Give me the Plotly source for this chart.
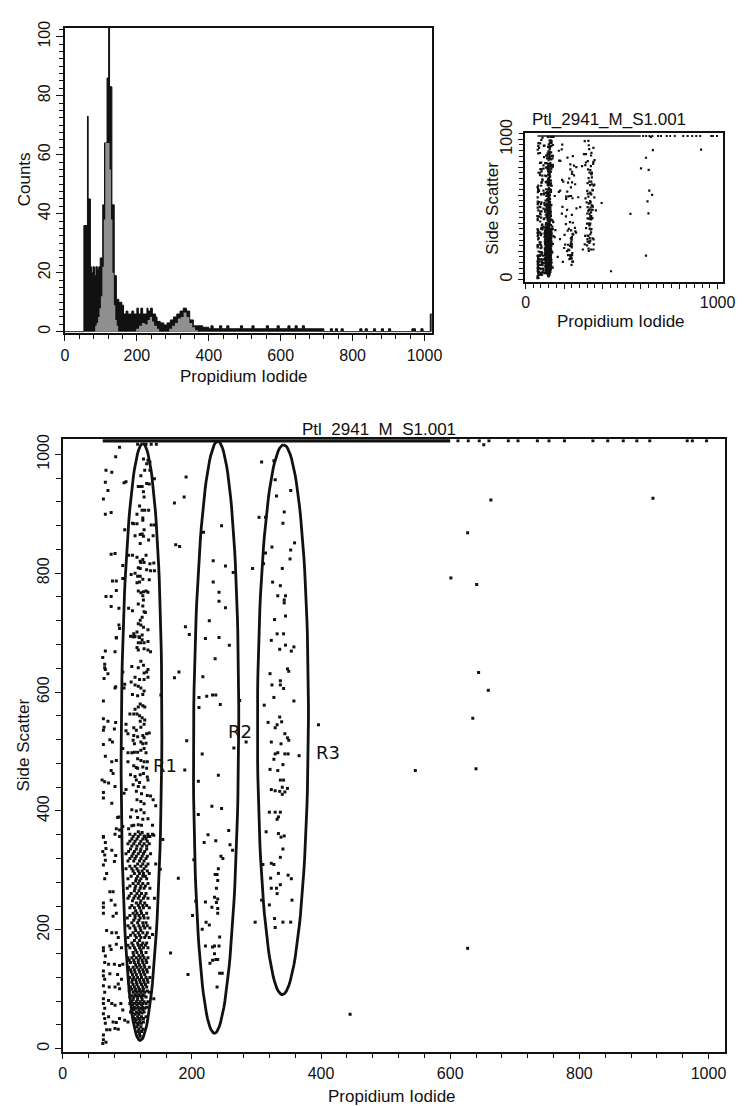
import numpy as np
import plotly.graph_objects as go

W, H = 751, 1106
FONT = "Liberation Sans, Arial, Helvetica, sans-serif"

# ---------------- Histogram (Counts vs Propidium Iodide) ----------------
# step histogram: left bin edges and counts (last edge closes the series)
HIST_BLACK_EDGES = [0, 52.6, 62.5, 64.5, 70.7, 74, 78, 82, 86, 90, 94, 98, 105, 110, 117, 121.5, 124,
                    130.5, 137, 143, 149.6, 158, 163, 170, 175, 186, 191, 200, 204, 211, 216, 228,
                    231, 238, 243, 252, 256, 265, 275, 284, 293, 302, 311, 320, 329, 338, 347, 357,
                    374, 383, 392, 400, 406, 412, 430, 436, 450, 456, 470, 488, 494, 520, 526, 540,
                    560, 566, 590, 596, 620, 626, 640, 646, 660, 666, 700, 720, 738, 744, 752, 758,
                    768, 774, 790, 820, 826, 835, 841, 858, 864, 880, 886, 900, 906, 965, 975, 990,
                    996, 1016, 1023]
HIST_BLACK_COUNTS = [0, 36, 73, 45, 22, 20, 22, 19, 22, 21, 22, 25, 43, 64, 86, 103, 83,
                     43, 19, 11, 10, 9, 6, 7, 6, 7, 6, 8, 6, 8, 6, 8,
                     7, 8, 6, 5, 3.5, 3, 2.3, 3, 4, 5, 6, 7, 8, 7, 4, 2,
                     2, 1.5, 1.5, 1, 2, 1, 2, 1, 2, 1, 1, 2, 1, 2, 1, 1,
                     2, 1, 2, 1, 2, 1, 2, 1, 2, 1, 1, 0, 1, 0, 1, 0,
                     1, 0, 0, 1, 0, 1, 0, 1, 0, 1, 0, 1, 0, 1, 0, 1,
                     0, 6]
HIST_GRAY_EDGES = [84, 88, 92, 96, 100, 104, 108, 112, 124, 128, 132, 136, 140, 144, 148,
                   198, 206, 214, 222, 230, 236, 242, 248, 256, 262,
                   290, 298, 306, 314, 322, 330, 338, 346, 354, 362, 370]
HIST_GRAY_COUNTS = [2, 3, 5, 8, 12, 22, 38, 64, 55, 38, 20, 9, 4, 2, 0,
                    1, 2, 3, 2.5, 4, 5, 3.5, 2, 1, 0,
                    1, 2, 3, 4.5, 5, 6.5, 5, 3, 1.5, 0.5]

# ---------------- Scatter events (Propidium Iodide, Side Scatter) ----------------
R1_PTS = [
    (88,1012),(82,996),(116,1017),(129,1017),(137,1017),(145,1017),(125,992),(132,990),(130,984),(135,987),
    (127,973),(135,973),(67,973),(76,970),(121,964),(95,952),(98,954),(66,953),(142,959),(191,962),
    (130,951),(134,950),(117,946),(120,946),(123,946),(70,939),(125,937),(63,925),(126,928),(188,928),(173,918),(119,913),
    (123,906),(127,906),(133,906),(66,899),(75,902),(115,899),(124,893),(124,889),(108,884),(110,883),(115,883),(137,881),(142,881),
    (126,873),(96,873),(112,863),(120,865),(123,866),(125,862),(133,856),(140,863),(120,850),(175,848),(181,845),
    (75,832),(81,833),(102,830),(108,830),(115,827),(129,830),(124,823),(120,820),(93,813),(121,818),(126,818),(135,816),(141,817),
    (117,809),(120,808),(130,806),(136,804),(142,804),(112,800),(116,795),(120,795),(106,798),(134,789),(77,787),(83,787),
    (115,784),(119,785),(124,790),(93,791),(83,771),(117,770),(121,767),(125,769),(129,770),(132,768),(124,762),
    (67,761),(75,761),(125,755),(75,744),(87,741),(102,741),(108,737),(117,748),(124,745),(126,735),(128,734),
    (123,726),(120,721),(117,715),(121,713),(125,709),(87,713),(88,707),(132,705),(115,701),(110,698),(105,694),(109,693),
    (112,694),(123,696),(118,693),(83,691),(117,683),(121,683),(126,683),(190,710),(196,697),
    (83,692),(111,693),(119,692),(123,688),(132,685),(115,675),(117,671),(126,673),(132,671),(136,668),(66,669),(81,668),
    (62,658),(65,647),(65,641),(66,638),(121,652),(125,645),(107,643),(117,641),(132,638),(130,634),(126,632),(93,634),
    (70,631),(64,623),(112,625),(119,621),(126,621),(132,625),(106,617),(112,612),(117,610),(121,607),(96,613),(95,607),
    (81,607),(82,609),(173,624),(180,634),(126,602),(124,596),(116,594),(108,596),(63,585),(152,595),
    (120,580),(117,575),(124,577),(127,575),(112,571),(104,563),(110,563),(115,563),(119,560),(123,557),(127,553),(120,551),
    (126,546),(63,555),(70,551),(82,549),(64,541),(63,536),(80,538),(98,546),(98,535),(101,530),
    (110,540),(114,536),(121,541),(134,531),(130,530),(110,527),(116,525),(124,527),(126,523),(73,520),(77,516),
    (109,519),(111,513),(121,516),(124,513),(129,514),(63,512),(93,505),(126,505),(121,502),(116,499),(129,498),(101,498),
    (107,498),(111,499),(66,492),(116,488),(121,485),(126,483),(131,483),(76,483),(83,485),(101,483),
    (110,476),(114,473),(116,472),(124,474),(130,472),(75,468),(78,463),(192,518),(189,469),
    (105,461),(112,458),(120,461),(125,463),(131,457),(114,452),(119,448),(132,452),(61,452),(65,449),(71,447),(81,441),
    (109,444),(117,441),(126,440),(98,436),(95,430),(63,431),(114,433),(122,429),(131,426),(136,425),
    (63,422),(76,413),(115,419),(121,416),(126,412),(140,419),(144,409),(107,402),(114,400),(121,402),(126,397),
    (87,390),(85,389),(105,390),(116,389),(124,386),(132,387),(110,376),(117,377),(122,376),(139,376),
    (83,370),(88,368),(93,374),(102,370),(107,375),(63,357),(81,361),(88,357),(117,365),(123,364),(126,358),(132,357),
    (141,359),(155,352),
]
R1_LEFT_PTS = [
    (63,356),(66,347),(67,337),(62,332),(65,326),(66,317),(63,309),(76,334),(82,325),(80,315),(68,295),(65,286),
    (78,264),(73,264),(63,245),(63,238),(63,228),(75,250),(81,242),(83,228),(78,223),(68,199),(76,195),(83,195),(86,187),
    (63,170),(63,165),(73,173),(75,167),(83,176),(91,170),(66,156),(65,145),(71,142),(80,142),(88,140),(93,142),
    (63,131),(63,123),(65,117),(73,126),(85,125),(91,117),(63,106),(65,95),(72,104),(81,104),(86,109),(88,101),
    (63,84),(63,76),(65,68),(71,81),(76,76),(81,73),(90,76),(93,65),(63,59),(65,51),(71,54),(78,45),(83,44),(88,51),
    (96,48),(101,45),(66,43),(68,32),(73,32),(81,34),(86,33),(63,23),(63,15),(67,11),(62,9),
]
# dense lower R1 core: side-scatter row -> propidium iodide values read in that row
R1_CORE_ROWS = {
    361: [104,112,120,132,139], 357: [109,117,127,135], 353: [107,115,124,129], 349: [104,112,121,131],
    345: [101,110,119,126,134], 341: [107,115,123,130], 336: [105,114,121,130], 332: [102,111,120,127],
    328: [98,109,117,125,136], 324: [107,114,123,131], 320: [104,112,121,129], 316: [101,110,119,126],
    311: [116,124,132,144], 307: [104,112,121,129], 303: [98,107,115,126], 299: [109,117,123,131],
    295: [111,119,125,134], 290: [106,116,124,128], 286: [101,114,121,130], 282: [113,119],
    278: [109,117,124,132], 274: [104,113,121,128], 270: [100,112,120,126,135], 266: [111,118],
    261: [106,115,122,129], 257: [103,112,119,127], 253: [101,110,117,125,132], 249: [108,121],
    245: [114,120,127], 241: [107,117,124,130], 237: [104,111,119,125,134], 232: [113,121],
    228: [109,115,122,130], 224: [104,112,118,125], 220: [100,112,120,126,132], 216: [110,118],
    212: [107,116,124,129], 207: [101,110,118,125,131], 203: [104,112,120,127,135], 199: [113,121],
    195: [109,117,124,131], 191: [105,112,119,129], 187: [101,114,121,127,134], 182: [111,119],
    178: [107,116,124,130], 174: [101,109,117,122,128], 170: [104,111,119,125,132], 166: [113,121],
    162: [109,115,122,129], 157: [110,118,124], 153: [101,107,114,120,126,132], 149: [103,110,117,123,129],
    145: [105,111,117,124,130], 141: [113,119,126], 137: [102,109,115,121,127,134], 133: [105,111,118,124,130],
    129: [106,112,119,125,131], 125: [108,114,121,127], 120: [104,110,116,122,129,135],
    116: [102,108,113,119,125,131], 112: [107,114,120,126,132], 108: [109,115,122,128],
    104: [105,111,117,124,130], 100: [107,113,119,125], 97: [103,112,118,124,131], 95: [109,115,121,127,134],
    91: [112,118,124], 89: [107,114,120,126], 87: [104,110,116,122,129], 83: [109,116,123],
    79: [107,114,120,126,132], 76: [104,111,118,124,129], 74: [108,115,122], 70: [111,117,124,130],
    68: [107,113,121,127], 66: [110,118,124], 62: [105,114,120,126], 60: [108,116,123], 58: [112,118],
    54: [109,116,122,129], 51: [111,118,125], 49: [114,120], 45: [112,119,125], 43: [115,122], 41: [117],
    37: [115,121], 33: [118,124], 29: [117,122], 25: [119], 21: [120],
}
BETWEEN_PTS = [(151,302),(142,253),(179,287),(167,161),(194,125),(141,84),(139,192)]
R2_PTS = [
    (246,880),(218,869),(233,821),(252,812),(264,801),(233,785),(242,768),(242,753),(252,742),(227,720),(221,690),
    (242,692),(258,679),(236,656),(217,626),(211,591),(223,593),(232,595),(237,595),(211,574),(244,579),(274,586),
    (265,506),(284,516),(216,496),(241,460),(210,450),(231,408),(246,404),(210,394),(225,360),(219,347),(237,350),
    (257,367),(259,343),(263,334),(245,324),(248,320),(203,318),(241,303),(239,293),(240,283),(236,293),(238,270),
    (235,255),(240,252),(238,246),(231,238),(240,236),(221,247),(206,248),(240,228),(201,224),(227,208),(222,213),
    (216,201),(243,188),(242,173),(235,173),(232,171),(221,173),(235,160),(237,150),(232,149),(228,144),(240,150),
    (243,127),(247,127),(239,104),
]
R3_PTS = [
    (308,987),(327,989),(329,957),(331,930),(353,939),(343,903),(304,894),(314,894),(341,884),(359,851),(324,844),
    (353,839),(314,834),(311,816),(352,824),(294,808),(340,808),(325,785),(337,779),(333,762),(345,762),(343,750),
    (343,755),(345,728),(328,722),(332,698),(342,698),(323,687),(345,679),(358,676),(336,672),(354,669),(348,639),
    (350,635),(321,631),(337,619),(337,612),(324,612),(342,606),(327,591),(358,585),(312,578),(336,558),(339,550),
    (318,549),(329,540),(332,545),(344,530),(348,523),(350,519),(323,516),(338,513),(329,496),(333,498),(344,496),
    (349,496),(366,493),(327,487),(341,478),(321,470),(333,468),(337,452),(342,452),(340,440),(336,433),(340,428),
    (344,432),(348,438),(329,434),(323,436),(320,398),(329,398),(337,398),(332,386),(334,390),(315,365),(334,362),
    (343,358),(338,356),(341,336),(337,322),(323,312),(327,310),(310,310),(334,295),(349,292),(354,286),(322,287),
    (323,270),(331,270),(337,276),(332,261),(308,250),(320,242),(355,250),(328,219),(329,204),(341,213),(353,213),
    (298,213),
]
OUTLIER_PTS = [(396,545),(445,58),(652,1016),(663,923),(914,926),(627,868),(601,792),(641,781),(644,633),
               (659,603),(635,556),(546,468),(640,471),(627,169)]
# saturated (off-scale) events piled on the top channel
SAT_LEVEL = 1023
SAT_BAND_X = [62, 600]
SAT_DOTS_X = [612, 628, 645, 660, 690, 705, 735, 753, 777, 821, 844, 868, 889, 909, 967, 975, 997]

# ---------------- Gates (top point, bottom point, half width) ----------------
GATE_NAMES = ["R1", "R2", "R3"]
GATE_TOP = [(124, 1018), (240, 1022), (342, 1016)]
GATE_BOTTOM = [(120, 14), (235, 26), (340, 91)]
GATE_HALFWIDTH = [31.5, 35, 39.5]
GATE_LABEL_POS = [(158, 477), (275, 533), (411, 499)]

# ---------------- assemble events ----------------
pts = list(R1_PTS) + list(R1_LEFT_PTS) + list(BETWEEN_PTS) + list(R2_PTS) + list(R3_PTS) + list(OUTLIER_PTS)
for yv, xs in R1_CORE_ROWS.items():
    for xv in xs:
        pts.append((xv, yv))
ev_x = [p[0] for p in pts]
ev_y = [p[1] for p in pts]

def px2fx(px):
    return px / W

def py2fy(py):
    return 1 - py / H

fig = go.Figure()

# histogram (black then gray gated overlay)
fig.add_trace(go.Scatter(x=HIST_BLACK_EDGES, y=HIST_BLACK_COUNTS + [HIST_BLACK_COUNTS[-1]],
                         mode="lines", line=dict(shape="hv", color="#111111", width=1),
                         fill="tozeroy", fillcolor="#111111", xaxis="x", yaxis="y", showlegend=False))
fig.add_trace(go.Scatter(x=HIST_GRAY_EDGES, y=HIST_GRAY_COUNTS + [0],
                         mode="lines", line=dict(shape="hv", color="#8f8f8f", width=0),
                         fill="tozeroy", fillcolor="#8f8f8f", xaxis="x", yaxis="y", showlegend=False))

# small overview scatter
fig.add_trace(go.Scatter(x=ev_x, y=ev_y, mode="markers",
                         marker=dict(symbol="square", size=2.2, color="#111111", line=dict(width=0)),
                         xaxis="x2", yaxis="y2", showlegend=False))
fig.add_trace(go.Scatter(x=SAT_BAND_X, y=[SAT_LEVEL] * len(SAT_BAND_X), mode="lines",
                         line=dict(color="#111111", width=1.5), xaxis="x2", yaxis="y2", showlegend=False))
fig.add_trace(go.Scatter(x=SAT_DOTS_X, y=[SAT_LEVEL] * len(SAT_DOTS_X), mode="markers",
                         marker=dict(symbol="square", size=2, color="#111111"),
                         xaxis="x2", yaxis="y2", showlegend=False))

# main scatter
fig.add_trace(go.Scatter(x=ev_x, y=ev_y, mode="markers",
                         marker=dict(symbol="square", size=3, color="#111111", line=dict(width=0)),
                         xaxis="x3", yaxis="y3", showlegend=False))
fig.add_trace(go.Scatter(x=SAT_BAND_X, y=[SAT_LEVEL] * len(SAT_BAND_X), mode="lines",
                         line=dict(color="#111111", width=3.5), xaxis="x3", yaxis="y3", showlegend=False))
fig.add_trace(go.Scatter(x=SAT_DOTS_X, y=[SAT_LEVEL] * len(SAT_DOTS_X), mode="markers",
                         marker=dict(symbol="square", size=3, color="#111111"),
                         xaxis="x3", yaxis="y3", showlegend=False))

# gates
t = np.linspace(0, 2 * np.pi, 121)
for name, top, bot, hw in zip(GATE_NAMES, GATE_TOP, GATE_BOTTOM, GATE_HALFWIDTH):
    cx = (top[0] + bot[0]) / 2
    cy = (top[1] + bot[1]) / 2
    vx = (top[0] - bot[0]) / 2
    vy = (top[1] - bot[1]) / 2
    gx = cx + np.cos(t) * vx + np.sin(t) * hw
    gy = cy + np.cos(t) * vy
    fig.add_trace(go.Scatter(x=gx, y=gy, mode="lines", line=dict(color="#111111", width=2.8),
                             xaxis="x3", yaxis="y3", showlegend=False, hoverinfo="skip"))

tickfont = dict(family=FONT, size=16, color="#111111")
common = dict(showgrid=False, zeroline=False, showline=True, mirror=True, linecolor="#111111",
              linewidth=1.5, ticks="outside", tickcolor="#111111", tickwidth=1.3, tickfont=tickfont)

fig.update_layout(
    width=W, height=H, margin=dict(l=0, r=0, t=0, b=0),
    paper_bgcolor="white", plot_bgcolor="white", showlegend=False,
    xaxis=dict(domain=[px2fx(62.3), px2fx(437)], range=[0, 1020], anchor="y",
               tickvals=[0, 200, 400, 600, 800, 1000], ticklen=7,
               minor=dict(dtick=40, ticklen=5, tickcolor="#111111", ticks="outside"), **common),
    yaxis=dict(domain=[py2fy(323), py2fy(14)], range=[-0.3, 103], anchor="x",
               tickvals=[0, 20, 40, 60, 80, 100], tickangle=-90, ticklen=7,
               minor=dict(dtick=2.5, ticklen=4, tickcolor="#111111", ticks="outside"), **common),
    xaxis2=dict(domain=[px2fx(532), px2fx(735)], range=[-5, 1030], anchor="y2",
                tickvals=[0, 200, 400, 600, 800, 1000], ticktext=["0", "", "", "", "", "1000"], ticklen=5,
                minor=dict(dtick=40, ticklen=4, tickcolor="#111111", ticks="outside"), **common),
    yaxis2=dict(domain=[py2fy(272), py2fy(121)], range=[-21, 1042], anchor="x2",
                tickvals=[0, 200, 400, 600, 800, 1000], ticktext=["0", "", "", "", "", "1000"],
                tickangle=-90, ticklen=5,
                minor=dict(dtick=40, ticklen=4, tickcolor="#111111", ticks="outside"), **common),
    xaxis3=dict(domain=[px2fx(60), px2fx(737)], range=[0, 1026], anchor="y3",
                tickvals=[0, 200, 400, 600, 800, 1000], ticklen=6,
                minor=dict(dtick=40, ticklen=5, tickcolor="#111111", ticks="outside"), **common),
    yaxis3=dict(domain=[py2fy(1052), py2fy(431)], range=[-5, 1025.5], anchor="x3",
                tickvals=[0, 200, 400, 600, 800, 1000], tickangle=-90, ticklen=6,
                minor=dict(dtick=40, ticklen=5, tickcolor="#111111", ticks="outside"), **common),
)

titlefont = dict(family=FONT, size=17, color="#111111")
ann = [
    dict(text="Counts", x=px2fx(21), y=py2fy(168), textangle=-90),
    dict(text="Propidium Iodide", x=px2fx(245), y=py2fy(367)),
    dict(text="Side Scatter", x=px2fx(499), y=py2fy(197), textangle=-90),
    dict(text="Propidium Iodide", x=px2fx(630), y=py2fy(312)),
    dict(text="Side Scatter", x=px2fx(20), y=py2fy(741), textangle=-90),
    dict(text="Propidium Iodide", x=px2fx(396), y=py2fy(1097)),
]
for a in ann:
    fig.add_annotation(xref="paper", yref="paper", showarrow=False, font=titlefont,
                       xanchor="center", yanchor="middle", **a)
fig.add_annotation(text="Ptl_2941_M_S1.001", xref="paper", yref="paper", x=px2fx(537), y=py2fy(107),
                   xanchor="left", yanchor="middle", showarrow=False, font=titlefont)
fig.add_annotation(text="Ptl_2941_M_S1.001", xref="paper", yref="paper", x=px2fx(302), y=py2fy(421),
                   xanchor="left", yanchor="middle", showarrow=False, font=titlefont)
for name, (lx, ly) in zip(GATE_NAMES, GATE_LABEL_POS):
    fig.add_annotation(text=name, x=lx, y=ly, xref="x3", yref="y3", showarrow=False,
                       font=dict(family="DejaVu Sans, Verdana, sans-serif", size=18, color="#111111"))

fig.write_html("out.html")
